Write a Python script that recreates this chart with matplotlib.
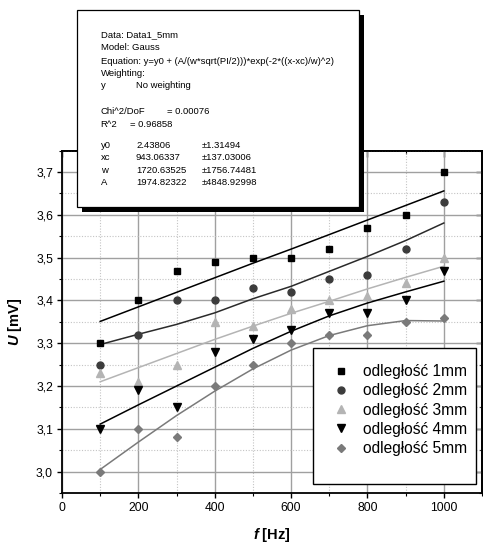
import numpy as np
import matplotlib
matplotlib.use("Agg")
import matplotlib.pyplot as plt
from matplotlib.patches import Rectangle
from matplotlib.ticker import MultipleLocator, FuncFormatter
from matplotlib.lines import Line2D

plt.rcParams['font.family'] = ['Liberation Sans', 'DejaVu Sans']
plt.rcParams['mathtext.fontset'] = 'custom'
plt.rcParams['mathtext.it'] = 'Liberation Sans:italic:bold'
plt.rcParams['mathtext.rm'] = 'Liberation Sans:bold'
plt.rcParams['mathtext.bf'] = 'Liberation Sans:bold'

# ---------------- data ----------------
freq = [100, 200, 300, 400, 500, 600, 700, 800, 900, 1000]
u_1mm = [3.30, 3.40, 3.47, 3.49, 3.50, 3.50, 3.52, 3.57, 3.60, 3.70]
u_2mm = [3.25, 3.32, 3.40, 3.40, 3.43, 3.42, 3.45, 3.46, 3.52, 3.63]
u_3mm = [3.23, 3.21, 3.25, 3.35, 3.34, 3.38, 3.40, 3.41, 3.44, 3.50]
u_4mm = [3.10, 3.19, 3.15, 3.28, 3.31, 3.33, 3.37, 3.37, 3.40, 3.47]
u_5mm = [3.00, 3.10, 3.08, 3.20, 3.25, 3.30, 3.32, 3.32, 3.35, 3.36]

# fitted curves
fit_1mm = [3.351, 3.385, 3.419, 3.453, 3.487, 3.520, 3.554, 3.588, 3.622, 3.656]
fit_2mm = [3.297, 3.321, 3.344, 3.371, 3.404, 3.433, 3.468, 3.503, 3.540, 3.581]
fit_3mm = [3.210, 3.243, 3.276, 3.309, 3.340, 3.370, 3.398, 3.427, 3.454, 3.480]
fit_4mm = [3.111, 3.156, 3.200, 3.244, 3.288, 3.328, 3.364, 3.394, 3.420, 3.445]
fit_5mm = [3.005, 3.069, 3.131, 3.188, 3.240, 3.284, 3.318, 3.341, 3.353, 3.352]

labels = ['odległość 1mm', 'odległość 2mm', 'odległość 3mm', 'odległość 4mm', 'odległość 5mm']

x_ticks = [0, 200, 400, 600, 800, 1000]
y_ticks = [3.0, 3.1, 3.2, 3.3, 3.4, 3.5, 3.6, 3.7]

info_lines = ['Data: Data1_5mm', 'Model: Gauss',
              'Equation: y=y0 + (A/(w*sqrt(PI/2)))*exp(-2*((x-xc)/w)^2)',
              'Weighting:']
weight_row = ['y', 'No weighting']
chi_row = ['Chi^2/DoF', '= 0.00076']
r2_row = ['R^2', '= 0.96858']
param_names = ['y0', 'xc', 'w', 'A']
param_values = ['2.43806', '943.06337', '1720.63525', '1974.82322']
param_errors = ['±1.31494', '±137.03006', '±1756.74481', '±4848.92998']

# ---------------- figure ----------------
W, H = 483, 543
fig = plt.figure(figsize=(W / 100, H / 100), dpi=100)
ax_l, ax_r, ax_t, ax_b = 62, 482, 150.7, 493
ax = fig.add_axes([ax_l / W, 1 - ax_b / H, (ax_r - ax_l) / W, (ax_b - ax_t) / H])

series = [
    (u_1mm, fit_1mm, 's', 4.8, '#000000', '#000000'),
    (u_2mm, fit_2mm, 'o', 5.0, '#3c3c3c', '#2a2a2a'),
    (u_3mm, fit_3mm, '^', 5.6, '#b4b4b4', '#b4b4b4'),
    (u_4mm, fit_4mm, 'v', 5.6, '#000000', '#000000'),
    (u_5mm, fit_5mm, 'D', 4.3, '#7a7a7a', '#7a7a7a'),
]
handles = []
for (u, fit, m, ms, mc, lc), lab in zip(series, labels):
    ax.plot(freq, fit, '-', color=lc, lw=1.1, zorder=3)
    ax.plot(freq, u, linestyle='none', marker=m, ms=ms, color=mc, zorder=4)
    handles.append(Line2D([], [], linestyle='none', marker=m, ms=ms, color=mc, label=lab))

ax.set_xlim(0, 1100)
ax.set_ylim(2.95, 3.75)
ax.xaxis.set_major_locator(plt.FixedLocator(x_ticks))
ax.xaxis.set_minor_locator(MultipleLocator(100))
ax.yaxis.set_major_locator(plt.FixedLocator(y_ticks))
ax.yaxis.set_minor_locator(MultipleLocator(0.05))
ax.yaxis.set_major_formatter(FuncFormatter(lambda v, p: f'{v:.1f}'.replace('.', ',')))
ax.xaxis.set_major_formatter(FuncFormatter(lambda v, p: f'{v:.0f}'))

ax.grid(which='major', color='#a0a0a0', lw=1.0, zorder=0)
ax.grid(which='minor', color='#c4c4c4', lw=0.8, ls=(0, (1, 1.5)), zorder=0)
ax.set_axisbelow(True)

ax.tick_params(which='major', direction='out', length=3.5, width=1.0, labelsize=8.7, pad=3)
ax.tick_params(which='minor', direction='out', length=2, width=0.8)
for s in ax.spines.values():
    s.set_linewidth(1.3)

secx = ax.secondary_xaxis('top')
secx.xaxis.set_major_locator(plt.FixedLocator(x_ticks))
secx.xaxis.set_minor_locator(MultipleLocator(100))
secx.tick_params(which='major', direction='in', length=4, width=1.0, labeltop=False)
secx.tick_params(which='minor', direction='in', length=2.5, width=0.8)
secx.spines['top'].set_linewidth(1.3)
secy = ax.secondary_yaxis('right')
secy.yaxis.set_major_locator(plt.FixedLocator(y_ticks))
secy.yaxis.set_minor_locator(MultipleLocator(0.05))
secy.tick_params(which='major', direction='in', length=4, width=1.0, labelright=False)
secy.tick_params(which='minor', direction='in', length=2.5, width=0.8)
secy.spines['right'].set_linewidth(1.3)

ax.set_xlabel(r'$\mathit{f}$ [Hz]', fontsize=10.5, fontweight='bold')
ax.set_ylabel(r'$\mathit{U}$ [mV]', fontsize=10.5, fontweight='bold')
ax.xaxis.set_label_coords(0.5, -0.097)
ax.yaxis.set_label_coords(-0.09, 0.5)

# legend with separate box
def axfx(px):
    return (px - ax_l) / (ax_r - ax_l)

def axfy(py):
    return (ax_b - py) / (ax_b - ax_t)

box = Rectangle((axfx(312.7), axfy(484)), axfx(475.7) - axfx(312.7), axfy(348.3) - axfy(484),
                transform=ax.transAxes, facecolor='white', edgecolor='black', lw=1.0, zorder=5)
ax.add_patch(box)
leg = ax.legend(handles=handles, loc='upper left', bbox_to_anchor=(axfx(333.4), axfy(364.3)),
                frameon=False, fontsize=11.2, handlelength=1.0, handletextpad=0.9,
                labelspacing=0.27, borderpad=0, borderaxespad=0)
leg.set_zorder(6)

# fit info box (figure level, overlaps axes)
def fx(px):
    return px / W

def fy(py):
    return 1 - py / H

shadow = Rectangle((fx(82), fy(212.3)), fx(364) - fx(82), fy(15) - fy(212.3),
                   transform=fig.transFigure, facecolor='black', edgecolor='black', lw=0, zorder=10)
panel = Rectangle((fx(77.3), fy(207.0)), fx(359) - fx(77.3), fy(10) - fy(207.0),
                  transform=fig.transFigure, facecolor='white', edgecolor='black', lw=0.9, zorder=11)
fig.patches.extend([shadow, panel])

fs = 6.8
tx = 100.7
ys = [34.3, 47.7, 61.0, 73.3]
for line, yy in zip(info_lines, ys):
    fig.text(fx(tx), fy(yy), line, fontsize=fs, va='center', ha='left', zorder=12)
fig.text(fx(tx), fy(86), weight_row[0], fontsize=fs, va='center', zorder=12)
fig.text(fx(136), fy(86), weight_row[1], fontsize=fs, va='center', zorder=12)
fig.text(fx(tx), fy(111.7), chi_row[0], fontsize=fs, va='center', zorder=12)
fig.text(fx(167.3), fy(111.7), chi_row[1], fontsize=fs, va='center', zorder=12)
fig.text(fx(tx), fy(124.3), r2_row[0], fontsize=fs, va='center', zorder=12)
fig.text(fx(130), fy(124.3), r2_row[1], fontsize=fs, va='center', zorder=12)
for i, (n, v, e) in enumerate(zip(param_names, param_values, param_errors)):
    yy = 145.3 + i * 12.45
    fig.text(fx(tx), fy(yy), n, fontsize=fs, va='center', zorder=12)
    fig.text(fx(136), fy(yy), v, fontsize=fs, va='center', zorder=12)
    fig.text(fx(201.7), fy(yy), e, fontsize=fs, va='center', zorder=12)

fig.savefig('out.png', dpi=100)
